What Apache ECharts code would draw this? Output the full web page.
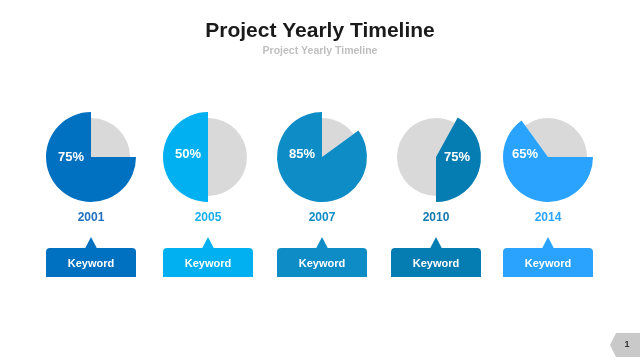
<!DOCTYPE html>
<html>
<head>
<meta charset="utf-8">
<script src="https://cdn.jsdelivr.net/npm/echarts@6/dist/echarts.min.js"></script>
<style>html,body{margin:0;padding:0;background:#fff}#c{width:640px;height:360px}</style>
</head>
<body>
<div id="c"></div>
<script>
// ---- data ----
const years = ['2001', '2005', '2007', '2010', '2014'];
const shares = [75, 50, 85, 42, 65];            // drawn share of coloured sector
const pctLabels = ['75%', '50%', '85%', '75%', '65%'];
const keywords = ['Keyword', 'Keyword', 'Keyword', 'Keyword', 'Keyword'];
const titleText = 'Project Yearly Timeline';
const subtitleText = 'Project Yearly Timeline';
const pageNo = '1';

// ---- styling / layout ----
const colors = ['#0070C0', '#00B0F0', '#0E8CC6', '#067DB2', '#2AA3FF'];
const yearColors = ['#1F6FC0', '#19AEEA', '#0E8CC6', '#1479AE', '#2AA3FF'];
const grey = '#D9D9D9';
const cxs = [91, 208, 322, 436, 548];
const cy = 157;
const startAngles = [90, 90, 90, 270, 126];
const labelOffsets = [[-20, 0], [-20, -3], [-20, -3], [21, 0], [-23, -3]];

const chart = echarts.init(document.getElementById('c'), null, {renderer: 'canvas'});

const series = [];
years.forEach((y, i) => {
  const base = {
    type: 'pie', center: [cxs[i], cy], startAngle: startAngles[i], clockwise: true,
    silent: true, animation: false, label: {show: false}, labelLine: {show: false},
    emphasis: {disabled: true}, z: 2
  };
  series.push(Object.assign({}, base, {
    radius: [0, 39],
    data: [
      {value: 100 - shares[i], itemStyle: {color: grey, borderWidth: 0}},
      {value: shares[i], itemStyle: {color: 'rgba(0,0,0,0)', borderWidth: 0}}
    ]
  }));
  series.push(Object.assign({}, base, {
    radius: [0, 45],
    data: [
      {value: 100 - shares[i], itemStyle: {color: 'rgba(0,0,0,0)', borderWidth: 0}},
      {value: shares[i], itemStyle: {color: colors[i], borderWidth: 0}}
    ]
  }));
});

const graphics = [];
const FONT = '"Liberation Sans", Arial, sans-serif';
years.forEach((y, i) => {
  const cx = cxs[i];
  graphics.push({
    type: 'text', x: cx + labelOffsets[i][0], y: cy + labelOffsets[i][1], silent: true, z: 100,
    style: {text: pctLabels[i], fill: '#fff', font: 'bold 13px ' + FONT,
      textAlign: 'center', textVerticalAlign: 'middle'}
  });
  graphics.push({
    type: 'text', x: cx, y: 218, silent: true, z: 100,
    style: {text: y, fill: yearColors[i], font: 'bold 12px ' + FONT,
      textAlign: 'center', textVerticalAlign: 'middle'}
  });
  graphics.push({
    type: 'polygon', silent: true, z: 50,
    shape: {points: [[cx, 237], [cx - 6, 248.5], [cx + 6, 248.5]]},
    style: {fill: colors[i]}
  });
  graphics.push({
    type: 'rect', silent: true, z: 50,
    shape: {x: cx - 45, y: 248, width: 90, height: 29, r: [4, 4, 0, 0]},
    style: {fill: colors[i]}
  });
  graphics.push({
    type: 'text', x: cx, y: 263.5, silent: true, z: 100,
    style: {text: keywords[i], fill: '#fff', font: 'bold 11px ' + FONT,
      textAlign: 'center', textVerticalAlign: 'middle'}
  });
});
graphics.push({
  type: 'polygon', silent: true, z: 50,
  shape: {points: [[616, 333], [640, 333], [640, 357], [616, 357], [610, 345]]},
  style: {fill: '#C9C9C9'}
});
graphics.push({
  type: 'text', x: 627, y: 345, silent: true, z: 100,
  style: {text: pageNo, fill: '#333', font: 'bold 9px ' + FONT,
    textAlign: 'center', textVerticalAlign: 'middle'}
});
graphics.push({
  type: 'text', x: 320, y: 31, silent: true, z: 100,
  style: {text: titleText, fill: '#1A1A1A', font: 'bold 21px ' + FONT,
    textAlign: 'center', textVerticalAlign: 'middle'}
});
graphics.push({
  type: 'text', x: 320, y: 51, silent: true, z: 100,
  style: {text: subtitleText, fill: '#BFBFBF', font: 'bold 10.5px ' + FONT,
    textAlign: 'center', textVerticalAlign: 'middle'}
});

chart.setOption({
  backgroundColor: '#ffffff',
  animation: false,
  series: series,
  graphic: graphics
});
</script>
</body>
</html>
